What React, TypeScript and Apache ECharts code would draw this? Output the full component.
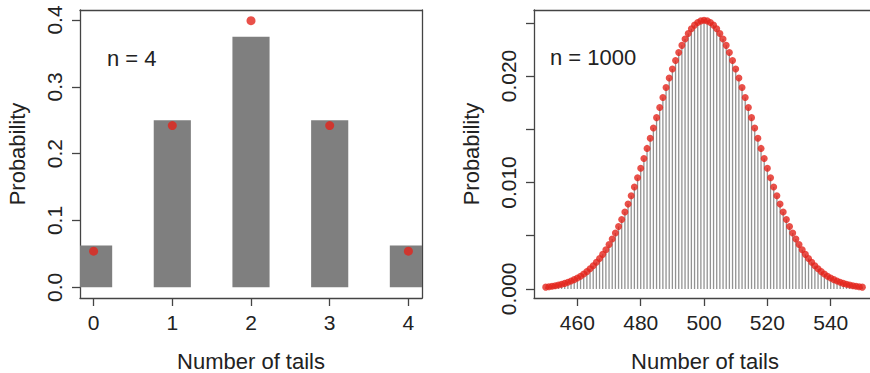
import React, { useEffect, useRef } from "react";
import * as echarts from "echarts";

const FONT = "'Liberation Sans', Arial, Helvetica, sans-serif";

// Left panel: n = 4
const tails4 = [0, 1, 2, 3, 4];
const binomProb4 = [0.0625, 0.25, 0.375, 0.25, 0.0625];
const normalApprox4 = [0.054, 0.242, 0.399, 0.242, 0.054];
const yTicks4 = [0, 0.1, 0.2, 0.3, 0.4];

// Right panel: n = 1000 (tails 450..550)
const tailsStart1000 = 450;
const binomProb1000 = [
  0.00017, 0.000207, 0.000252, 0.000304, 0.000366, 0.00044, 0.000525, 0.000625, 0.000741, 0.000875,
  0.00103, 0.0012, 0.00141, 0.00163, 0.00189, 0.00218, 0.0025, 0.00286, 0.00325, 0.00369,
  0.00417, 0.00469, 0.00526, 0.00587, 0.00653, 0.00723, 0.00797, 0.00876, 0.00958, 0.01044,
  0.01134, 0.01226, 0.0132, 0.01415, 0.01512, 0.01609, 0.01705, 0.01799, 0.01892, 0.01981,
  0.02066, 0.02146, 0.0222, 0.02288, 0.02348, 0.024, 0.02444, 0.02478, 0.02503, 0.02518,
  0.02523,
  0.02518, 0.02503, 0.02478, 0.02444, 0.024, 0.02348, 0.02288, 0.0222, 0.02146, 0.02066,
  0.01981, 0.01892, 0.01799, 0.01705, 0.01609, 0.01512, 0.01415, 0.0132, 0.01226, 0.01134,
  0.01044, 0.00958, 0.00876, 0.00797, 0.00723, 0.00653, 0.00587, 0.00526, 0.00469, 0.00417,
  0.00369, 0.00325, 0.00286, 0.0025, 0.00218, 0.00189, 0.00163, 0.00141, 0.0012, 0.00103,
  0.000875, 0.000741, 0.000625, 0.000525, 0.00044, 0.000366, 0.000304, 0.000252, 0.000207, 0.00017,
];
const normalApprox1000 = [
  0.00017, 0.000207, 0.000252, 0.000304, 0.000366, 0.00044, 0.000525, 0.000625, 0.000741, 0.000875,
  0.00103, 0.0012, 0.00141, 0.00163, 0.00189, 0.00218, 0.0025, 0.00286, 0.00325, 0.00369,
  0.00417, 0.00469, 0.00526, 0.00587, 0.00653, 0.00723, 0.00797, 0.00876, 0.00958, 0.01044,
  0.01134, 0.01226, 0.0132, 0.01415, 0.01512, 0.01609, 0.01705, 0.01799, 0.01892, 0.01981,
  0.02066, 0.02146, 0.0222, 0.02288, 0.02348, 0.024, 0.02444, 0.02478, 0.02503, 0.02518,
  0.02523,
  0.02518, 0.02503, 0.02478, 0.02444, 0.024, 0.02348, 0.02288, 0.0222, 0.02146, 0.02066,
  0.01981, 0.01892, 0.01799, 0.01705, 0.01609, 0.01512, 0.01415, 0.0132, 0.01226, 0.01134,
  0.01044, 0.00958, 0.00876, 0.00797, 0.00723, 0.00653, 0.00587, 0.00526, 0.00469, 0.00417,
  0.00369, 0.00325, 0.00286, 0.0025, 0.00218, 0.00189, 0.00163, 0.00141, 0.0012, 0.00103,
  0.000875, 0.000741, 0.000625, 0.000525, 0.00044, 0.000366, 0.000304, 0.000252, 0.000207, 0.00017,
];
const xTicks1000 = [460, 480, 500, 520, 540];
const yTicks1000 = [0, 0.005, 0.01, 0.015, 0.02, 0.025];
const yLabels1000 = [0, 0.01, 0.02];

const TEXT = "#222";
const AXIS = "#444";
const RED = "#e3241c";
const BAR_HALF = 0.236;

export default function App() {
  const ref = useRef<HTMLDivElement>(null);
  useEffect(() => {
    if (!ref.current) return;
    const chart = echarts.init(ref.current, null, { renderer: "svg" });
    const tails1000 = binomProb1000.map((_, i) => tailsStart1000 + i);

    const line = { show: true, onZero: false, lineStyle: { color: AXIS, width: 1.3 } };
    const frameAxis = (gridIndex: number, position: string, min: number, max: number) => ({
      type: "value",
      gridIndex,
      position,
      min,
      max,
      axisLine: line,
      axisTick: { show: false },
      axisLabel: { show: false },
      splitLine: { show: false },
    });

    const option: any = {
      animation: false,
      textStyle: { fontFamily: FONT },
      grid: [
        { left: 80, top: 10, width: 342, height: 288, show: false, containLabel: false, outerBoundsMode: "none" },
        { left: 534, top: 10, width: 342, height: 288, show: false, containLabel: false, outerBoundsMode: "none" },
      ],
      xAxis: [
        {
          type: "value",
          gridIndex: 0,
          position: "bottom",
          min: -0.173,
          max: 4.173,
          axisLine: line,
          splitLine: { show: false },
          name: "Number of tails",
          nameLocation: "middle",
          nameGap: 52,
          nameTextStyle: { fontSize: 22, color: TEXT, fontFamily: FONT },
          axisTick: { show: true, inside: false, length: 8, customValues: tails4, lineStyle: { color: AXIS, width: 1.3 } },
          axisLabel: { customValues: tails4, margin: 14, fontSize: 21, color: TEXT, fontFamily: FONT, formatter: (v: number) => String(v) },
        },
        {
          type: "value",
          gridIndex: 1,
          position: "bottom",
          min: 446.3,
          max: 554.3,
          axisLine: line,
          splitLine: { show: false },
          name: "Number of tails",
          nameLocation: "middle",
          nameGap: 52,
          nameTextStyle: { fontSize: 22, color: TEXT, fontFamily: FONT },
          axisTick: { show: true, inside: false, length: 8, customValues: xTicks1000, lineStyle: { color: AXIS, width: 1.3 } },
          axisLabel: { customValues: xTicks1000, margin: 14, fontSize: 21, color: TEXT, fontFamily: FONT, formatter: (v: number) => String(v) },
        },
        frameAxis(0, "top", -0.173, 4.173),
        frameAxis(1, "top", 446.3, 554.3),
      ],
      yAxis: [
        {
          type: "value",
          gridIndex: 0,
          position: "left",
          min: -0.016,
          max: 0.415,
          axisLine: line,
          splitLine: { show: false },
          name: "Probability",
          nameLocation: "middle",
          nameGap: 52,
          nameRotate: 90,
          nameTextStyle: { fontSize: 22, color: TEXT, fontFamily: FONT },
          axisTick: { show: true, inside: false, length: 8, customValues: yTicks4, lineStyle: { color: AXIS, width: 1.3 } },
          axisLabel: { customValues: yTicks4, rotate: 90, margin: 15, fontSize: 21, color: TEXT, fontFamily: FONT, formatter: (v: number) => v.toFixed(1) },
        },
        {
          type: "value",
          gridIndex: 1,
          position: "left",
          min: -0.00085,
          max: 0.0262,
          axisLine: line,
          splitLine: { show: false },
          name: "Probability",
          nameLocation: "middle",
          nameGap: 52,
          nameRotate: 90,
          nameTextStyle: { fontSize: 22, color: TEXT, fontFamily: FONT },
          axisTick: { show: true, inside: false, length: 8, customValues: yTicks1000, lineStyle: { color: AXIS, width: 1.3 } },
          axisLabel: { customValues: yLabels1000, rotate: 90, margin: 15, fontSize: 21, color: TEXT, fontFamily: FONT, formatter: (v: number) => v.toFixed(3) },
        },
        frameAxis(0, "right", -0.016, 0.415),
        frameAxis(1, "right", -0.00085, 0.0262),
      ],
      series: [
        {
          type: "custom",
          xAxisIndex: 0,
          yAxisIndex: 0,
          data: tails4.map((t, i) => [t, binomProb4[i]]),
          clip: true,
          renderItem: (params: any, api: any) => {
            const x = api.value(0);
            const y = api.value(1);
            const p1 = api.coord([x - BAR_HALF, y]);
            const p2 = api.coord([x + BAR_HALF, 0]);
            const cs = params.coordSys;
            const rect = echarts.graphic.clipRectByRect(
              { x: p1[0], y: p1[1], width: p2[0] - p1[0], height: p2[1] - p1[1] },
              { x: cs.x, y: cs.y, width: cs.width, height: cs.height }
            );
            if (!rect) return null;
            return { type: "rect", shape: rect, style: { fill: "#7f7f7f" } };
          },
          z: 1,
        },
        {
          type: "scatter",
          xAxisIndex: 0,
          yAxisIndex: 0,
          data: tails4.map((t, i) => [t, normalApprox4[i]]),
          symbolSize: 9,
          itemStyle: { color: RED },
          z: 3,
        },
        {
          type: "bar",
          xAxisIndex: 1,
          yAxisIndex: 1,
          data: tails1000.map((t, i) => [t, binomProb1000[i]]),
          barWidth: 1.3,
          itemStyle: { color: "#929292" },
          z: 1,
        },
        {
          type: "scatter",
          xAxisIndex: 1,
          yAxisIndex: 1,
          data: tails1000.map((t, i) => [t, normalApprox1000[i]]),
          symbolSize: 7,
          itemStyle: { color: RED },
          z: 3,
        },
      ],
      graphic: [
        { type: "text", x: 107, y: 58, style: { text: "n = 4", fontSize: 22, fill: TEXT, fontFamily: FONT, align: "left", verticalAlign: "middle" } },
        { type: "text", x: 550, y: 57, style: { text: "n = 1000", fontSize: 22, fill: TEXT, fontFamily: FONT, align: "left", verticalAlign: "middle" } },
      ],
    };
    chart.setOption(option);
    return () => chart.dispose();
  }, []);
  return <div ref={ref} style={{ position: "absolute", left: 0, top: 0, width: 870, height: 373, background: "#fff" }} />;
}
